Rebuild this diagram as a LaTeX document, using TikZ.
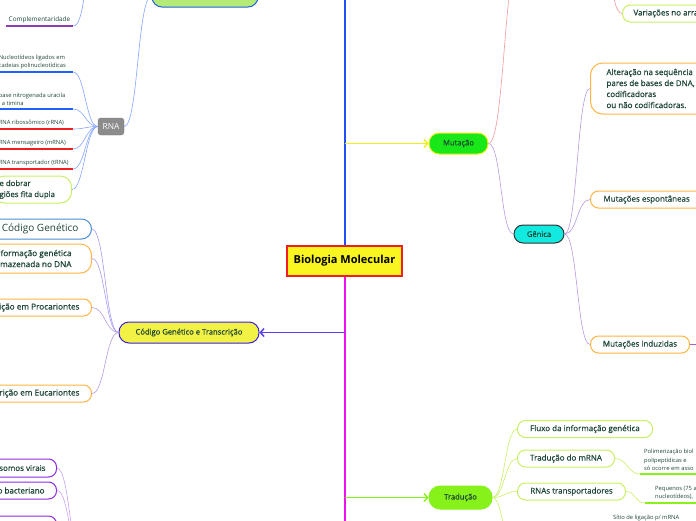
\documentclass[tikz,border=0pt]{standalone}
\usepackage{fontspec}
\setmainfont{Open Sans}
\newfontfamily\semi[FakeBold=0.5]{Open Sans}
\usetikzlibrary{arrows.meta}

\definecolor{rootred}{HTML}{F01E1E}
\definecolor{rootyellow}{HTML}{F8F520}
\definecolor{trunkblue}{HTML}{1F4FFF}
\definecolor{trunkpink}{HTML}{F00FF0}
\definecolor{mutgreen}{HTML}{18E818}
\definecolor{mutyellow}{HTML}{F0F018}
\definecolor{codeyellow}{HTML}{F2F244}
\definecolor{codeblue}{HTML}{3A1EE6}
\definecolor{tradlime}{HTML}{86F21A}
\definecolor{gencyan}{HTML}{12EADF}
\definecolor{txtgreen}{HTML}{1E4636}
\definecolor{leaforange}{HTML}{FFB445}
\definecolor{limeleaf}{HTML}{C8F064}
\definecolor{lavender}{HTML}{B89AE0}
\definecolor{pinkline}{HTML}{F49A9A}
\definecolor{rnagray}{HTML}{8C8C8C}
\definecolor{topgreen}{HTML}{B4EB78}
\definecolor{topblue}{HTML}{2060E8}
\definecolor{ulblue}{HTML}{1F5FFF}
\definecolor{ulred}{HTML}{F02020}
\definecolor{violetleaf}{HTML}{8A2BE2}
\definecolor{compline}{HTML}{8E3BB5}
\definecolor{codeleaf}{HTML}{4A90D9}
\definecolor{softblue}{HTML}{85A5FF}

\newcommand{\tsize}[2]{\fontsize{#1}{#2}\selectfont}

\begin{document}
\begin{tikzpicture}[x=1pt,y=-1pt,>={Straight Barb[length=3.5pt,width=8pt]},
    every node/.style={text=txtgreen},
    rootbox/.style={draw=rootred,line width=1.5pt,fill=rootyellow,text=black,
        minimum width=115pt,minimum height=30pt,inner sep=0pt,font=\bfseries\tsize{11}{13}},
    branch/.style={line width=1pt,rounded corners=10pt,inner sep=0pt,font=\semi\tsize{7.6}{9}},
    lleaf/.style={line width=1pt,fill=white,rounded corners=8pt,inner ysep=0pt,
        anchor=east,align=flush right,font=\semi\tsize{8.2}{11}},
    rleaf/.style={line width=1pt,fill=white,rounded corners=8pt,inner ysep=0pt,
        anchor=west,align=flush left,font=\semi\tsize{8}{11}},
    uline/.style={inner ysep=3pt,font=\tsize{5.8}{8.2},
        append after command={(\tikzlastnode.south west) edge[draw=#1,line width=1.5pt] (\tikzlastnode.south east)}},
    link/.style={line width=0.6pt}]
    \useasboundingbox (0,0) rectangle (696,520);

    % trunk and main branches
    \node[rootbox] (root) at (344.5,261) {Biologia Molecular};
    \coordinate (trunktop) at (344.5,-10);
    \coordinate (trunkbot) at (344.5,530);
    \draw[trunkblue,line width=2pt] (root.north) -- (trunktop);
    \draw[trunkpink,line width=2pt] (root.south) -- (trunkbot);

    \node[branch,fill=mutgreen,draw=mutyellow,minimum width=59pt,minimum height=21pt] (mut) at (458.5,143.5) {Mutação};
    \node[branch,fill=codeyellow,draw=codeblue,minimum width=140pt,minimum height=21pt] (code) at (189,332.5) {Código Genético e Transcrição};
    \node[branch,fill=tradlime,draw=tradlime,minimum width=63pt,minimum height=23pt,rounded corners=11pt] (trad) at (460.5,497.5) {Tradução};
    \draw[->,mutyellow,line width=1.5pt] (root.north |- mut) -- (mut.west);
    \draw[->,codeblue!85!white,line width=1.5pt] (root.south |- code) -- (code.east);
    \draw[->,tradlime,line width=1.5pt] (root.south |- trad) -- (trad.west);

    % upper left
    \node[branch,fill=topgreen,draw=topblue,minimum width=106pt,minimum height=22pt] (acid) at (205,-4) {};
    \node[fill=rnagray,draw=rnagray!85!black,rounded corners=3pt,text=white,minimum width=26pt,
        minimum height=17pt,inner sep=0pt,font=\tsize{8.4}{10}] (rna) at (111,126.5) {RNA};
    \draw[link,softblue] (rna.east) to[out=0,in=180,distance=14pt] (acid.west);

    \node[uline=compline,anchor=south,minimum width=67pt,inner xsep=0pt,font=\tsize{6.4}{8}] (comp) at (39.5,26) {Complementaridade};
    \coordinate (dnaend) at (95,-30);
    \draw[link,softblue] (comp.south east) to[out=0,in=180,distance=12pt] (dnaend);

    \node[uline=ulblue,anchor=south east,text width=74pt,inner xsep=0pt,align=flush left] (nucl) at (73,72) {Nucleotídeos ligados em\\cadeias polinucleotídicas};
    \node[uline=ulblue,anchor=south east,text width=74pt,inner xsep=0pt,align=flush left] (urac) at (73,109) {base nitrogenada uracila\\i a timina};
    \node[uline=ulred,anchor=south east,text width=74pt,inner xsep=0pt,align=flush left] (ribo) at (73,129) {RNA ribossômico (rRNA)};
    \node[uline=ulred,anchor=south east,text width=74pt,inner xsep=0pt,align=flush left] (mens) at (73,149) {RNA mensageiro (mRNA)};
    \node[uline=ulred,anchor=south east,text width=74pt,inner xsep=0pt,align=flush left] (transp) at (73,169) {RNA transportador (tRNA)};
    \node[lleaf,draw=limeleaf,text width=66pt,inner xsep=6pt,minimum height=27pt,rounded corners=11pt,align=flush left,font=\semi\tsize{7.8}{11}] (dobra) at (72,189.5) {e dobrar\\giões fita dupla};
    \foreach \n in {nucl,urac,ribo,mens,transp} {
        \draw[link,softblue] (rna.west) to[out=180,in=0,distance=12pt] (\n.south east);
    }
    \draw[link,softblue] (rna.west) to[out=180,in=0,distance=12pt] (dobra.east);

    % genetic code
    \node[lleaf,draw=codeleaf,text width=100pt,inner xsep=13pt,minimum height=20pt,rounded corners=10pt,font=\tsize{10}{12}] (gcode) at (92,229) {Código Genético};
    \node[lleaf,draw=leaforange,text width=100pt,inner xsep=20pt,minimum height=29pt,rounded corners=11pt] (info) at (92,258.5) {formação genética\\rmazenada no DNA};
    \node[lleaf,draw=leaforange,text width=100pt,inner xsep=12pt,minimum height=17pt] (proc) at (92,307.5) {ição em Procariontes};
    \node[lleaf,draw=leaforange,text width=100pt,inner xsep=12pt,minimum height=17pt] (euc) at (92,393.5) {rição em Eucariontes};
    \draw[link,codeblue!45!white] (code.west) to[out=180,in=0,distance=13pt] (gcode.east);
    \draw[link,codeblue!45!white] (code.west) to[out=180,in=0,distance=13pt] (info.east);
    \draw[link,lavender] (code.west) to[out=180,in=0,distance=13pt] (proc.east);
    \draw[link,lavender] (code.west) to[out=180,in=0,distance=13pt] (euc.east);

    % lower left
    \node[lleaf,draw=violetleaf,text width=80pt,inner xsep=11pt,minimum height=18pt,font=\semi\tsize{8}{10}] (viral) at (57,468) {somos virais};
    \node[lleaf,draw=violetleaf,text width=80pt,inner xsep=12pt,minimum height=17pt,font=\semi\tsize{8}{10}] (bact) at (57,490.5) {o bacteriano};
    \node[lleaf,draw=violetleaf,text width=80pt,inner xsep=12pt,minimum height=18pt] (third) at (57,525) {};
    \coordinate (genoma) at (84,570);
    \foreach \n in {viral,bact,third} {
        \draw[link,violetleaf!45!white] (\n.east) to[out=0,in=180,distance=13pt] (genoma);
    }

    % mutation
    \node[branch,fill=gencyan,draw=black!80,minimum width=50pt,minimum height=18pt,rounded corners=9pt] (gen) at (539,234) {Gênica};
    \draw[link,lavender] (mut.east) to[out=0,in=180,distance=13pt] (gen.west);
    \coordinate (cromoW) at (520,-45);
    \coordinate (cromoE) at (600,-45);
    \draw[link,pinkline] (mut.east) to[out=0,in=180,distance=16pt] (cromoW);
    \node[rleaf,draw=limeleaf,text width=100pt,inner xsep=11pt,minimum height=17pt] (var) at (622,13.5) {Variações no arranjo};
    \draw[link,pinkline] (cromoE) to[out=0,in=180,distance=11pt] (var.west);

    \node[rleaf,draw=leaforange,text width=150pt,inner xsep=16pt,minimum height=51pt,rounded corners=12pt] (alter) at (590,88.5) {Alteração na sequência\\pares de bases de DNA,\\codificadoras\\ou não codificadoras.};
    \node[rleaf,draw=leaforange,text width=90pt,inner xsep=13pt,minimum height=17pt] (espont) at (590,199.5) {Mutações espontâneas};
    \node[rleaf,draw=leaforange,minimum width=99pt,minimum height=17pt,align=center] (induz) at (590,344.5) {Mutações induzidas};
    \coordinate (induzout) at (710,344.5);
    \draw[compline!80!white,line width=1.5pt] (induz.east) -- (induzout);
    \foreach \n in {alter,espont,induz} {
        \draw[link,lavender] (gen.east) to[out=0,in=180,distance=13pt] (\n.west);
    }

    % translation
    \node[rleaf,draw=limeleaf,minimum width=135pt,minimum height=17pt,align=center] (fluxo) at (517,429) {Fluxo da informação genética};
    \node[rleaf,draw=limeleaf,minimum width=97pt,minimum height=17pt,align=center] (mrna) at (517,458.5) {Tradução do mRNA};
    \node[rleaf,draw=limeleaf,minimum width=108pt,minimum height=17pt,align=center] (trna) at (517,491.5) {RNAs transportadores};
    \coordinate (tradout) at (517,570);
    \foreach \n in {fluxo,mrna,trna} {
        \draw[link,limeleaf] (trad.east) to[out=0,in=180,distance=12pt] (\n.west);
    }
    \draw[link,limeleaf] (trad.east) to[out=0,in=180,distance=12pt] (tradout);

    \node[uline=tradlime,anchor=south west,text width=80pt,inner xsep=4pt,align=flush left,font=\tsize{5.8}{8.5}] (poli) at (640,474) {Polimerização biol\\polipeptídicas e\\só ocorre em asso};
    \node[uline=tradlime,anchor=south west,text width=60pt,inner xsep=10pt,align=flush left,font=\tsize{5.8}{8}] (peq) at (645,503) {Pequenos (75 a\\nucleotídeos),};
    \node[anchor=west,inner sep=1pt,font=\tsize{5.8}{7}] (sitio) at (612,518) {Sítio de ligação p/ mRNA};
    \draw[link,limeleaf] (mrna.east) to[out=0,in=180,distance=12pt] (poli.south west);
    \draw[link,limeleaf] (trna.east) to[out=0,in=180,distance=10pt] (peq.south west);
\end{tikzpicture}
\end{document}
